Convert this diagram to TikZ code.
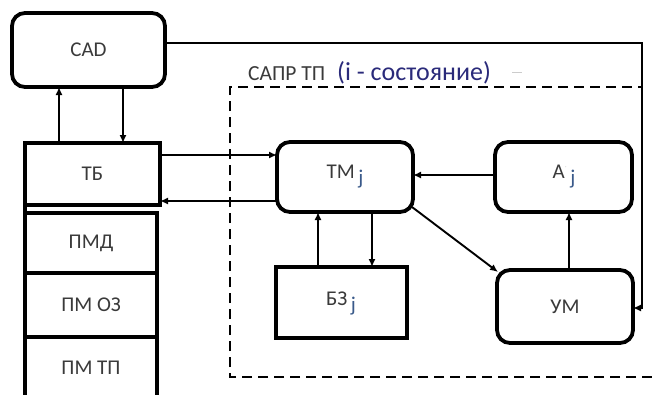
\documentclass[tikz,border=0pt]{standalone}
\usepackage{fontspec}
\setmainfont{Carlito}
\usetikzlibrary{arrows.meta}
\definecolor{txt}{HTML}{3A3A3A}
\definecolor{bluetxt}{HTML}{2A2A7A}
\definecolor{subj}{HTML}{3A5A8A}
\begin{document}
\begin{tikzpicture}[x=1pt,y=-1pt,
  rbox/.style={draw=black,line width=3.8pt,rounded corners=13pt},
  sbox/.style={draw=black,line width=3.4pt},
  lbl/.style={text=txt,font=\fontsize{21}{24}\selectfont},
  conn/.style={line width=1.9pt,-{Latex[length=8pt,width=7pt]}}
]
\useasboundingbox (0,0) rectangle (652,394);
% boxes
\draw[rbox] (12,13) rectangle (165,87);
\node[lbl] (cadt) at (88.5,50) {CAD};

\draw[sbox] (25,143) rectangle (160,205);
\node[lbl] at (92.5,174) {ТБ};
\draw[sbox] (25,213) rectangle (157,273);
\node[lbl] at (91,243) {ПМД};
\draw[sbox] (25,273) rectangle (157,337);
\node[lbl] at (91,305) {ПМ ОЗ};
\draw[sbox] (25,337) rectangle (157,400);
\node[lbl] at (91,368) {ПМ ТП};
\draw[line width=3.4pt] (25,205) -- (25,213);

\draw[rbox] (277,142) rectangle (413,212);
\node[lbl] at (345,177) {ТМ\,\raisebox{-6pt}{\textcolor{subj}{j}}};
\draw[rbox] (495,142) rectangle (632,212);
\node[lbl] at (564,177) {А\raisebox{7pt}{\textcolor{gray!50}{\scriptsize\textasciiacute}}\,\raisebox{-6pt}{\textcolor{subj}{j}}};
\draw[sbox] (276,267) rectangle (407,338);
\node[lbl] at (341,303) {БЗ\,\raisebox{-6pt}{\textcolor{subj}{j}}};
\draw[rbox] (497,270) rectangle (633,343);
\node[lbl] at (565,307) {УМ};

% coordinates for connectors
\coordinate (cadB1) at (59,87);
\coordinate (tbT1) at (59,143);
\coordinate (cadB2) at (123,87);
\coordinate (tbT2) at (123,143);
\coordinate (tbR1) at (160,155);
\coordinate (tmL1) at (277,155);
\coordinate (tmL2) at (277,201);
\coordinate (tbR2) at (160,201);
\coordinate (ajL) at (495,175);
\coordinate (tmR) at (413,175);
\coordinate (tmB1) at (372,212);
\coordinate (bzT1) at (372,267);
\coordinate (bzT2) at (318,267);
\coordinate (tmB2) at (318,212);
\coordinate (tmC) at (412,207);
\coordinate (umC) at (498,272);
\coordinate (umT) at (569,270);
\coordinate (ajB) at (569,212);
\coordinate (cadR) at (165,43);
\coordinate (c1) at (642,43);
\coordinate (c2) at (642,308);
\coordinate (umR) at (633,308);

\draw[conn] (tbT1) -- (cadB1);
\draw[conn] (cadB2) -- (tbT2);
\draw[conn] (tbR1) -- (tmL1);
\draw[conn] (tmL2) -- (tbR2);
\draw[conn] (ajL) -- (tmR);
\draw[conn] (tmB1) -- (bzT1);
\draw[conn] (bzT2) -- (tmB2);
\draw[conn] (tmC) -- (umC);
\draw[conn] (umT) -- (ajB);
\draw[conn,line width=1.5pt] (cadR) -- (c1) -- (c2) -- (umR);

% dashed region
\draw[line width=2.6pt,dash pattern=on 10pt off 6pt] (652,377) -- (230,377) -- (230,87) -- (642,87);
\node[anchor=base west,inner sep=0pt,text=txt,font=\fontsize{21.5}{24}\selectfont] (lab) at (248,80) {САПР ТП};
\node[anchor=base west,inner sep=0pt,text=bluetxt,font=\fontsize{26}{28}\selectfont] (lab2) at (337,80) {(i - состояние)};
\draw[gray!40,line width=1pt] (512,72) -- (522,72);
\end{tikzpicture}
\end{document}
